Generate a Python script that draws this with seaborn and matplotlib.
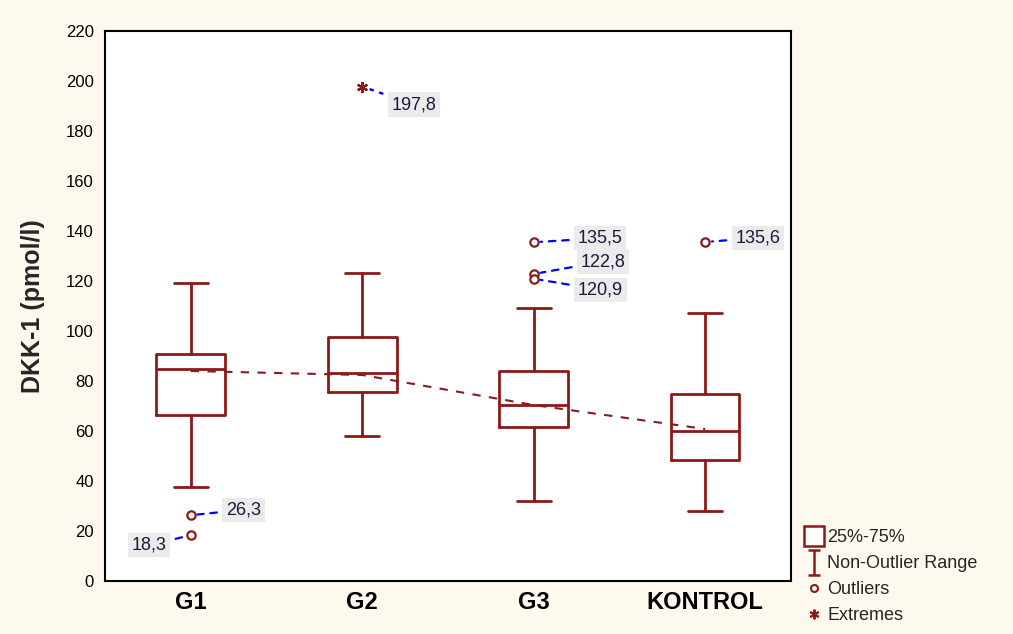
import matplotlib
matplotlib.use("Agg")
import matplotlib.pyplot as plt
from matplotlib.lines import Line2D
from matplotlib.path import Path
import seaborn as sns
import numpy as np

# ---- data ----
groups = ["G1", "G2", "G3", "KONTROL"]
whisker_low = [37.6, 58.0, 32.0, 28.0]
q1 = [66.4, 75.6, 61.6, 48.4]
median = [84.8, 83.2, 70.4, 60.0]
q3 = [90.8, 97.6, 84.0, 74.8]
whisker_high = [119.2, 123.2, 109.2, 107.2]
means = [84.0, 82.4, 70.4, 60.8]
outliers = [[26.3, 18.3], [], [135.5, 122.8, 120.9], [135.6]]
extremes = [[], [197.8], [], []]
y_ticks = [0, 20, 40, 60, 80, 100, 120, 140, 160, 180, 200, 220]

# label offsets (points) for each outlier / extreme label
out_offsets = [[(38, 4), (-30, -7)], [], [(48, 3), (50, 9), (48, -8)], [(38, 3)]]
ext_offsets = [[], [(37, -13)], [], []]

RED = "#8B1A1A"
BG = "#FDF9EE"

sns.set_style("white")
plt.rcParams["font.family"] = ["Liberation Sans", "DejaVu Sans"]

fig = plt.figure(figsize=(10.13, 6.34), dpi=100, facecolor=BG)
ax = fig.add_axes([0.1037, 0.0836, 0.677, 0.8675])
ax.set_facecolor("white")

pos = np.arange(len(groups))
stats = []
for i, g in enumerate(groups):
    stats.append(dict(label=g, whislo=whisker_low[i], q1=q1[i], med=median[i],
                      q3=q3[i], whishi=whisker_high[i], fliers=[]))
ax.bxp(stats, positions=pos, widths=0.4, showfliers=False, patch_artist=False,
       boxprops=dict(color=RED, linewidth=2),
       medianprops=dict(color=RED, linewidth=2),
       whiskerprops=dict(color=RED, linewidth=2),
       capprops=dict(color=RED, linewidth=2),
       capwidths=0.2, manage_ticks=False, zorder=3)

# mean dashed line
sns.lineplot(x=pos, y=means, ax=ax, color=RED, linestyle=(0, (4, 4)), linewidth=1.5, zorder=2)

def fmt(v):
    return f"{v:.1f}".replace(".", ",")

LBL = dict(ha="center", va="center", fontsize=13, color="#1a1a3a",
           bbox=dict(boxstyle="square,pad=0.2", fc="#EBEBEB", ec="none"))

for i in range(len(groups)):
    for v, off in zip(outliers[i], out_offsets[i]):
        ax.plot(pos[i], v, marker="o", markersize=6, markerfacecolor="white",
                markeredgecolor=RED, markeredgewidth=1.6, zorder=4)
        ax.annotate(fmt(v), xy=(pos[i], v), xytext=off, textcoords="offset points",
                    arrowprops=dict(arrowstyle="-", color="blue", linestyle=(0, (3, 3)),
                                    linewidth=1.6, shrinkA=4, shrinkB=5), zorder=5, **LBL)
    for v, off in zip(extremes[i], ext_offsets[i]):
        ax.plot(pos[i], v, marker=(6, 2, 0), markersize=8, color=RED,
                markeredgewidth=1.6, zorder=4)
        ax.annotate(fmt(v), xy=(pos[i], v), xytext=off, textcoords="offset points",
                    arrowprops=dict(arrowstyle="-", color="blue", linestyle=(0, (1, 3)),
                                    linewidth=1.8, shrinkA=4, shrinkB=6), zorder=5, **LBL)

ax.set_xlim(-0.5, len(groups) - 0.5)
ax.set_ylim(0, 220)
ax.set_yticks(y_ticks)
ax.set_yticklabels([str(t) for t in y_ticks], fontsize=12)
ax.set_xticks(pos)
ax.set_xticklabels(groups, fontsize=17, fontweight="bold")
ax.tick_params(axis="both", direction="in", length=5, width=1.2, colors="black")
ax.tick_params(axis="y", pad=8)
ax.tick_params(axis="x", pad=7)
ax.set_ylabel("DKK-1 (pmol/l)", fontsize=18, fontweight="bold")
ax.yaxis.set_label_coords(-0.087, 0.5)
for s in ax.spines.values():
    s.set_color("black")
    s.set_linewidth(1.5)

ibeam = Path([(-0.5, 1), (0.5, 1), (0, 1), (0, -1), (-0.5, -1), (0.5, -1)],
             [Path.MOVETO, Path.LINETO, Path.MOVETO, Path.LINETO, Path.MOVETO, Path.LINETO])
handles = [
    Line2D([], [], marker="s", markersize=15, markerfacecolor="white",
           markeredgecolor=RED, markeredgewidth=1.8, linestyle="none"),
    Line2D([], [], marker=ibeam, markersize=18, color=RED, markeredgewidth=1.8,
           linestyle="none"),
    Line2D([], [], marker="o", markersize=5, markerfacecolor="white",
           markeredgecolor=RED, markeredgewidth=1.5, linestyle="none"),
    Line2D([], [], marker=(6, 2, 0), markersize=7, color=RED, markeredgewidth=1.4,
           linestyle="none"),
]
labels = ["25%-75%", "Non-Outlier Range", "Outliers", "Extremes"]
fig.legend(handles, labels, loc="lower left", bbox_to_anchor=(0.789, 0.004),
           frameon=False, fontsize=13, handlelength=0.8, handletextpad=0.35,
           labelspacing=0.5, borderaxespad=0)

fig.savefig("out.png", dpi=100, facecolor=BG)
